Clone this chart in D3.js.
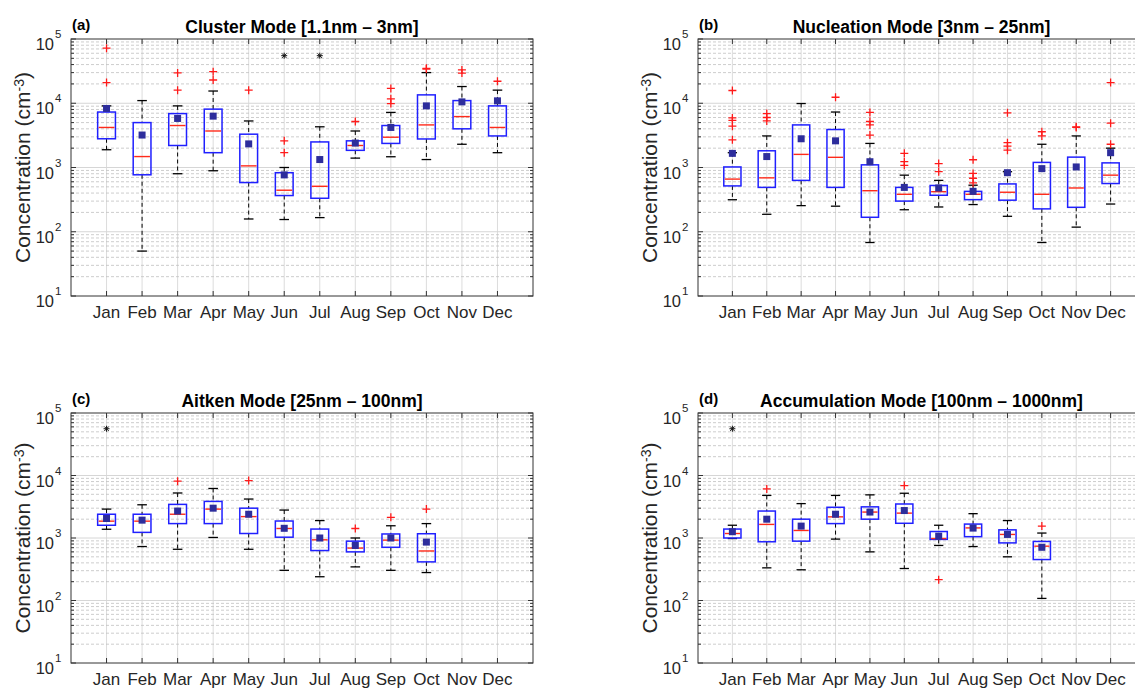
<!DOCTYPE html>
<html>
<head>
<meta charset="utf-8">
<script src="https://cdn.jsdelivr.net/npm/d3@7"></script>
<style>
  body { margin: 0; background: #fff; }
  svg { font-family: "Liberation Sans", Arial, sans-serif; }
</style>
</head>
<body>
<div id="chart"></div>
<script>
// Monthly particle number concentration statistics (cm^-3)

const months = ["Jan", "Feb", "Mar", "Apr", "May", "Jun", "Jul", "Aug", "Sep", "Oct", "Nov", "Dec"];

// each row: [lower whisker, q1, median, q3, upper whisker, mean]
const clusterStats = [
    [1890, 2800, 4200, 7300, 9100, 8300],
    [50, 770, 1480, 5000, 11000, 3200],
    [800, 2200, 4500, 6900, 9100, 5800],
    [890, 1700, 3700, 8100, 15500, 6300],
    [158, 583, 1060, 3300, 5300, 2330],
    [155, 366, 443, 830, 1000, 767],
    [166, 332, 510, 2500, 4300, 1330],
    [1400, 1850, 2200, 2600, 3700, 2400],
    [1470, 2370, 2960, 4500, 7200, 4200],
    [1330, 2780, 4600, 13500, 30000, 9100],
    [2300, 4000, 6200, 11000, 18200, 10500],
    [1700, 3100, 4200, 9100, 16000, 10900]
];
const clusterOutliers = [
    [72000, 21000], [], [29700, 16000], [31000, 23000], [16000], [2600, 1700],
    [], [5200], [17000, 11700, 9900], [35000, 34000], [33000, 29500], [22000]
];
const clusterStars = [["Jun", 55000], ["Jul", 55000]];

const nucleationStats = [
    [315, 517, 660, 1020, 1700, 1660],
    [187, 490, 690, 1820, 3100, 1480],
    [255, 630, 1600, 4600, 9900, 2800],
    [250, 490, 1440, 3900, 7300, 2600],
    [68, 168, 435, 1100, 2370, 1230],
    [220, 300, 383, 490, 760, 490],
    [243, 370, 420, 525, 630, 480],
    [265, 316, 383, 425, 530, 425],
    [174, 310, 412, 555, 860, 830],
    [68, 227, 383, 1200, 2300, 960],
    [118, 240, 480, 1450, 3100, 1020],
    [270, 563, 760, 1180, 2000, 1700]
];
const nucleationOutliers = [
    [15800, 5900, 5400, 4400, 2700], [6900, 6000, 5300], [], [12400],
    [7200, 5200, 4600, 3200], [1660, 1230, 1080], [1150, 860], [1320, 810, 680, 575],
    [7100, 2430, 2150, 1860], [3600, 3100], [4300, 4200], [21000, 4900, 2300]
];
const nucleationStars = [];

const aitkenStats = [
    [1380, 1600, 1860, 2400, 2900, 2050],
    [730, 1230, 1860, 2400, 3400, 1930],
    [660, 1700, 2400, 3450, 5250, 2700],
    [1020, 1700, 2900, 3850, 6200, 3000],
    [660, 1180, 2200, 3000, 4200, 2400],
    [304, 1030, 1420, 1870, 2800, 1430],
    [240, 630, 935, 1390, 1900, 1000],
    [345, 600, 690, 890, 1000, 760],
    [304, 710, 925, 1160, 1570, 1000],
    [280, 415, 620, 1170, 1700, 860]
];
const aitkenOutliers = [
    [], [], [8100], [], [8300], [], [], [1420], [2140], [2900]
];
const aitkenStars = [["Jan", 56000]];

const accumulationStats = [
    [980, 1000, 1180, 1390, 1600, 1260],
    [333, 870, 1650, 2700, 4800, 2000],
    [310, 890, 1320, 2000, 3550, 1550],
    [960, 1700, 2180, 3100, 4800, 2400],
    [600, 2000, 2600, 3150, 4900, 2600],
    [325, 1720, 2500, 3500, 5200, 2750],
    [760, 950, 980, 1270, 1600, 1070],
    [730, 1050, 1450, 1670, 2450, 1440],
    [500, 835, 1140, 1350, 1900, 1140],
    [108, 452, 740, 880, 1200, 710]
];
const accumulationOutliers = [
    [], [6100], [], [], [], [6900], [215], [], [], [1550]
];
const accumulationStars = [["Jan", 56000]];

const W = 1135, H = 688;

const svg = d3.select("#chart")
    .append("svg")
    .attr("width", W)
    .attr("height", H);

const panels = [
    { tag: "(a)", title: "Cluster Mode [1.1nm \u2013 3nm]", stats: clusterStats, outliers: clusterOutliers, stars: clusterStars,
      left: 71, top: 39, width: 462, height: 257 },
    { tag: "(b)", title: "Nucleation Mode [3nm \u2013 25nm]", stats: nucleationStats, outliers: nucleationOutliers, stars: nucleationStars,
      left: 698, top: 39, width: 447, height: 257 },
    { tag: "(c)", title: "Aitken Mode [25nm \u2013 100nm]", stats: aitkenStats, outliers: aitkenOutliers, stars: aitkenStars,
      left: 71, top: 413, width: 462, height: 250 },
    { tag: "(d)", title: "Accumulation Mode [100nm \u2013 1000nm]", stats: accumulationStats, outliers: accumulationOutliers, stars: accumulationStars,
      left: 698, top: 413, width: 447, height: 250 }
];

// log grid values
const majorValues = [1e2, 1e3, 1e4];
const minorValues = [];
for (let e = 1; e <= 4; e++) {
    for (let k = 2; k <= 9; k++) minorValues.push(k * Math.pow(10, e));
}
const decadeValues = [1e1, 1e2, 1e3, 1e4, 1e5];

const drawPanel = (p) => {
    const g = svg.append("g")
        .attr("transform", `translate(${p.left}, ${p.top})`);

    const xScale = d3.scalePoint()
        .domain(months)
        .range([0, p.width])
        .padding(1);

    const yScale = d3.scaleLog()
        .domain([10, 1e5])
        .range([p.height, 0]);

    const step = xScale.step();
    const boxW = step * 0.5;
    const capW = step * 0.27;

    // grid first
    g.append("g")
        .selectAll("line")
        .data(months)
        .join("line")
        .attr("x1", d => xScale(d))
        .attr("x2", d => xScale(d))
        .attr("y1", 0)
        .attr("y2", p.height)
        .attr("stroke", "#dcdcdc")
        .attr("stroke-width", 1);

    g.append("g")
        .selectAll("line")
        .data(minorValues)
        .join("line")
        .attr("x1", 0)
        .attr("x2", p.width)
        .attr("y1", d => yScale(d))
        .attr("y2", d => yScale(d))
        .attr("stroke", "#c0c0c0")
        .attr("stroke-width", 0.8)
        .attr("stroke-dasharray", "3 2");

    g.append("g")
        .selectAll("line")
        .data(majorValues)
        .join("line")
        .attr("x1", 0)
        .attr("x2", p.width)
        .attr("y1", d => yScale(d))
        .attr("y2", d => yScale(d))
        .attr("stroke", "#d6d6d6")
        .attr("stroke-width", 1);

    // tick marks (inside, on all four sides like matlab box on)
    const ticks = g.append("g").attr("stroke", "#333").attr("stroke-width", 1);
    months.forEach(m => {
        ticks.append("line").attr("x1", xScale(m)).attr("x2", xScale(m)).attr("y1", p.height).attr("y2", p.height - 5);
        ticks.append("line").attr("x1", xScale(m)).attr("x2", xScale(m)).attr("y1", 0).attr("y2", 5);
    });
    decadeValues.forEach(v => {
        ticks.append("line").attr("x1", 0).attr("x2", 5).attr("y1", yScale(v)).attr("y2", yScale(v));
        ticks.append("line").attr("x1", p.width).attr("x2", p.width - 5).attr("y1", yScale(v)).attr("y2", yScale(v));
    });
    minorValues.forEach(v => {
        ticks.append("line").attr("x1", 0).attr("x2", 3).attr("y1", yScale(v)).attr("y2", yScale(v));
        ticks.append("line").attr("x1", p.width).attr("x2", p.width - 3).attr("y1", yScale(v)).attr("y2", yScale(v));
    });

    // axis box
    g.append("rect")
        .attr("width", p.width)
        .attr("height", p.height)
        .attr("fill", "none")
        .attr("stroke", "#333")
        .attr("stroke-width", 1);

    // whiskers, dashed black
    const boxes = g.selectAll(".month")
        .data(p.stats)
        .join("g")
        .attr("class", "month")
        .attr("transform", (d, i) => `translate(${xScale(months[i])}, 0)`);

    boxes.append("line")
        .attr("y1", d => yScale(d[4]))
        .attr("y2", d => yScale(d[3]))
        .attr("stroke", "#000")
        .attr("stroke-dasharray", "4 3");
    boxes.append("line")
        .attr("y1", d => yScale(d[1]))
        .attr("y2", d => yScale(d[0]))
        .attr("stroke", "#000")
        .attr("stroke-dasharray", "4 3");

    // whisker caps
    boxes.append("line")
        .attr("x1", -capW / 2).attr("x2", capW / 2)
        .attr("y1", d => yScale(d[4])).attr("y2", d => yScale(d[4]))
        .attr("stroke", "#000").attr("stroke-width", 1.3);
    boxes.append("line")
        .attr("x1", -capW / 2).attr("x2", capW / 2)
        .attr("y1", d => yScale(d[0])).attr("y2", d => yScale(d[0]))
        .attr("stroke", "#000").attr("stroke-width", 1.3);

    // box
    boxes.append("rect")
        .attr("x", -boxW / 2)
        .attr("width", boxW)
        .attr("y", d => yScale(d[3]))
        .attr("height", d => yScale(d[1]) - yScale(d[3]))
        .attr("fill", "none")
        .attr("stroke", "#2020ff")
        .attr("stroke-width", 1.5);

    // median
    boxes.append("line")
        .attr("x1", -boxW / 2 + 1).attr("x2", boxW / 2 - 1)
        .attr("y1", d => yScale(d[2])).attr("y2", d => yScale(d[2]))
        .attr("stroke", "#ff2a1a").attr("stroke-width", 1.4);

    // outliers as red plus
    boxes.each(function (d, i) {
        d3.select(this).selectAll(".out")
            .data(p.outliers[i])
            .join("path")
            .attr("class", "out")
            .attr("d", v => `M-4,${yScale(v)}h8M0,${yScale(v) - 4}v8`)
            .attr("stroke", "#ff1a1a")
            .attr("stroke-width", 1.3)
            .attr("fill", "none");
    });

    // mean as filled square
    boxes.append("rect")
        .attr("x", -3.5)
        .attr("width", 7)
        .attr("y", d => yScale(d[5]) - 3.5)
        .attr("height", 7)
        .attr("fill", "#2d2d9c");

    // extreme values marked with black asterisk
    g.selectAll(".star")
        .data(p.stars)
        .join("path")
        .attr("class", "star")
        .attr("d", d => {
            const cx = xScale(d[0]), cy = yScale(d[1]);
            return `M${cx - 3},${cy}h6M${cx},${cy - 3}v6M${cx - 2.2},${cy - 2.2}l4.4,4.4M${cx - 2.2},${cy + 2.2}l4.4,-4.4`;
        })
        .attr("stroke", "#111")
        .attr("stroke-width", 1);

    // y tick labels 10^n
    const yLabels = g.append("g").attr("fill", "#262626");
    decadeValues.forEach(v => {
        const e = Math.round(Math.log10(v));
        yLabels.append("text")
            .attr("x", -17)
            .attr("y", yScale(v) + 11)
            .attr("text-anchor", "end")
            .attr("font-size", 16.5)
            .text("10");
        yLabels.append("text")
            .attr("x", -16)
            .attr("y", yScale(v) - 1)
            .attr("font-size", 11.5)
            .text(e);
    });

    // month labels
    g.append("g")
        .selectAll("text")
        .data(months)
        .join("text")
        .attr("x", d => xScale(d))
        .attr("y", p.height + 22)
        .attr("text-anchor", "middle")
        .attr("font-size", 17)
        .attr("fill", "#262626")
        .text(d => d);

    // y axis label
    const yl = g.append("text")
        .attr("transform", `translate(-41, ${p.height / 2}) rotate(-90)`)
        .attr("text-anchor", "middle")
        .attr("font-size", 21)
        .attr("fill", "#262626");
    yl.append("tspan").text("Concentration (cm");
    yl.append("tspan").attr("dy", "-0.45em").attr("font-size", 14).text("-3");
    yl.append("tspan").attr("dy", "0.3em").text(")");

    // title and panel tag
    g.append("text")
        .attr("x", p.width / 2)
        .attr("y", -6)
        .attr("text-anchor", "middle")
        .attr("font-size", 17.5)
        .attr("font-weight", "bold")
        .attr("fill", "#000")
        .text(p.title);

    g.append("text")
        .attr("x", 1)
        .attr("y", -9)
        .attr("font-size", 15)
        .attr("font-weight", "bold")
        .attr("fill", "#000")
        .text(p.tag);
};

panels.forEach(drawPanel);
</script>
</body>
</html>
